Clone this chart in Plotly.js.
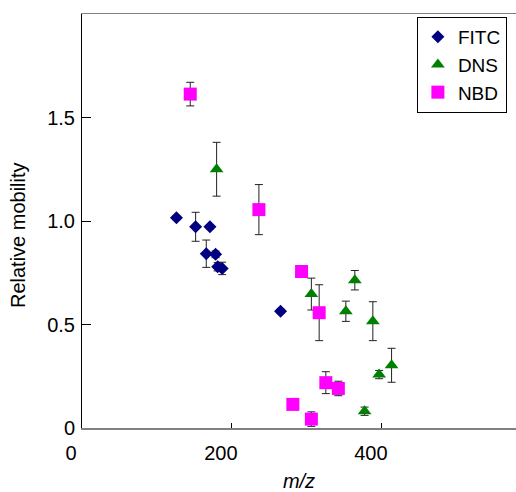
<!DOCTYPE html>
<html>
<head>
<meta charset="utf-8">
<script src="https://cdn.plot.ly/plotly-3.0.1.min.js"></script>
<style>html,body{margin:0;padding:0;overflow:hidden;background:#fff}</style>
</head>
<body>
<div id="chart" style="width:516px;height:492px"></div>
<script>
// FITC
var fitcX = [126, 151.6, 170.7, 165.8, 178.2, 181, 187, 264.9];
var fitcY = [1.016, 0.972, 0.972, 0.842, 0.839, 0.779, 0.771, 0.564];
var fitcErr = [0.01, 0.07, 0.01, 0.066, 0.016, 0.02, 0.03, 0.01];
// DNS
var dnsX = [179.6, 306, 352, 364, 388, 396.4, 413, 377];
var dnsY = [1.25, 0.647, 0.564, 0.714, 0.516, 0.258, 0.303, 0.081];
var dnsErr = [0.13, 0.077, 0.049, 0.047, 0.094, 0.02, 0.082, 0.02];
// NBD
var nbdX = [144.4, 236, 292.9, 316.4, 325.3, 342, 281.3, 306];
var nbdY = [1.613, 1.055, 0.756, 0.557, 0.219, 0.191, 0.114, 0.043];
var nbdErr = [0.057, 0.121, 0.01, 0.135, 0.053, 0.035, 0.01, 0.035];

var yTickVals = [0, 0.5, 1, 1.5];
var yTickText = ['0', '0.5', '1.0', '1.5'];
var xTickVals = [0, 200, 400];
var xTickText = ['0', '200', '400'];
var yTitle = 'Relative mobility';
var xTitle = '<i>m/z</i>';

function errBar(arr) {
  return {type: 'data', array: arr, visible: true, color: '#222', thickness: 1, width: 4};
}

var traces = [
  {x: fitcX, y: fitcY, name: 'FITC', type: 'scatter', mode: 'markers',
   marker: {symbol: 'diamond', size: 10, color: '#000080'}, error_y: errBar(fitcErr)},
  {x: dnsX, y: dnsY, name: 'DNS', type: 'scatter', mode: 'markers',
   marker: {symbol: 'triangle-up', size: 12, color: '#008000'}, error_y: errBar(dnsErr)},
  {x: nbdX, y: nbdY, name: 'NBD', type: 'scatter', mode: 'markers',
   marker: {symbol: 'square', size: 13, color: '#FF00FF'}, error_y: errBar(nbdErr)}
];

var font = {family: '"Liberation Sans", Arial, sans-serif', size: 20, color: '#000'};
var legFont = {family: '"Liberation Sans", Arial, sans-serif', size: 19, color: '#000'};

var layout = {
  width: 516, height: 492,
  margin: {l: 82, r: 0, t: 14, b: 64},
  paper_bgcolor: '#fff', plot_bgcolor: '#fff',
  font: font,
  showlegend: true,
  legend: {x: 0.979, xanchor: 'right', y: 0.993, yanchor: 'top',
           bordercolor: '#000', borderwidth: 1, bgcolor: '#fff',
           font: legFont, itemwidth: 30, tracegroupgap: 0},
  xaxis: {range: [0, 579], tickvals: xTickVals, ticktext: xTickText,
          ticks: 'inside', ticklen: 5, tickcolor: '#000', tickwidth: 1,
          showline: true, linecolor: '#808080', linewidth: 1.5, mirror: true,
          showgrid: false, zeroline: false, ticklabelshift: -11, ticklabelstandoff: 6,
          tickfont: font,
          title: {text: xTitle, font: font, standoff: 25}},
  yaxis: {range: [0, 2.0], tickvals: yTickVals, ticktext: yTickText,
          ticks: 'inside', ticklen: 9, tickcolor: '#000', tickwidth: 1,
          showline: true, linecolor: '#000', linewidth: 1,
          showgrid: false, zeroline: false, tickfont: font, ticklabelstandoff: 2},
  annotations: [{text: yTitle, textangle: -90, xref: 'paper', yref: 'paper',
                 x: -0.1475, y: 0.466, xanchor: 'center', yanchor: 'middle',
                 showarrow: false, font: font}]
};

Plotly.newPlot('chart', traces, layout, {displayModeBar: false, staticPlot: true});
</script>
</body>
</html>
